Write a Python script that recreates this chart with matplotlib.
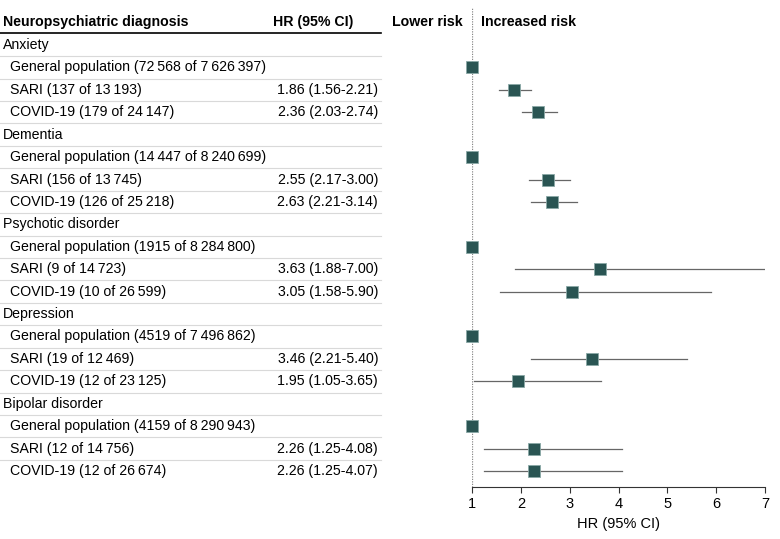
import numpy as np
import matplotlib.pyplot as plt
import matplotlib.transforms as mtransforms

plt.rcParams['font.family'] = ['Liberation Sans', 'DejaVu Sans']

ts = '\u2009'
categories = ['Anxiety', 'Dementia', 'Psychotic disorder', 'Depression', 'Bipolar disorder']
row_labels = [
    ['General population (72' + ts + '568 of 7' + ts + '626' + ts + '397)',
     'SARI (137 of 13' + ts + '193)', 'COVID-19 (179 of 24' + ts + '147)'],
    ['General population (14' + ts + '447 of 8' + ts + '240' + ts + '699)',
     'SARI (156 of 13' + ts + '745)', 'COVID-19 (126 of 25' + ts + '218)'],
    ['General population (1915 of 8' + ts + '284' + ts + '800)',
     'SARI (9 of 14' + ts + '723)', 'COVID-19 (10 of 26' + ts + '599)'],
    ['General population (4519 of 7' + ts + '496' + ts + '862)',
     'SARI (19 of 12' + ts + '469)', 'COVID-19 (12 of 23' + ts + '125)'],
    ['General population (4159 of 8' + ts + '290' + ts + '943)',
     'SARI (12 of 14' + ts + '756)', 'COVID-19 (12 of 26' + ts + '674)'],
]
hr = [[1.0, 1.86, 2.36], [1.0, 2.55, 2.63], [1.0, 3.63, 3.05], [1.0, 3.46, 1.95], [1.0, 2.26, 2.26]]
lo = [[1.0, 1.56, 2.03], [1.0, 2.17, 2.21], [1.0, 1.88, 1.58], [1.0, 2.21, 1.05], [1.0, 1.25, 1.25]]
hi = [[1.0, 2.21, 2.74], [1.0, 3.00, 3.14], [1.0, 7.00, 5.90], [1.0, 5.40, 3.65], [1.0, 4.08, 4.07]]

W, H = 780, 539
fig = plt.figure(figsize=(7.8, 5.39), dpi=100)
row0 = 45
step = 22.42
def to_row(px):
    return (px - row0) / step

ax = fig.add_axes([472 / W, 1 - 487 / H, (765 - 472) / W, (487 - 8) / H])
ax.set_xlim(1, 7)
ax.set_ylim(to_row(487), to_row(8))
for s in ['top', 'right', 'left']:
    ax.spines[s].set_visible(False)
ax.spines['bottom'].set_color('#333333')
ax.set_yticks([])
ax.set_xticks(range(1, 8))
ax.tick_params(axis='x', labelsize=10.5, length=4, color='#333333')
ax.set_xlabel('HR (95% CI)', fontsize=10.5, labelpad=4)
ax.axvline(1, color='#888888', lw=0.9, ls=(0, (1, 1)), zorder=1)

tr = mtransforms.blended_transform_factory(fig.transFigure, ax.transData)
fs = 10.2
mcol = '#2a5553'

fig.text(3 / W, 1 - 22 / H, 'Neuropsychiatric diagnosis', fontsize=fs, fontweight='bold', va='center')
fig.text(273 / W, 1 - 22 / H, 'HR (95% CI)', fontsize=fs, fontweight='bold', va='center')
fig.text(463 / W, 1 - 22 / H, 'Lower risk', fontsize=fs, fontweight='bold', va='center', ha='right')
fig.text(481 / W, 1 - 22 / H, 'Increased risk', fontsize=fs, fontweight='bold', va='center')
ax.plot([0, 381 / W], [to_row(33), to_row(33)], color='black', lw=1.2, transform=tr, clip_on=False)

row = 0
nrows = len(categories) * 4
for c, cat in enumerate(categories):
    ax.text(3 / W, row, cat, fontsize=fs, va='center', transform=tr)
    ax.plot([0, 381 / W], [row + 0.5, row + 0.5], color='#d9d9d9', lw=0.8, transform=tr, clip_on=False)
    row += 1
    for j in range(3):
        ax.text(10 / W, row, row_labels[c][j], fontsize=fs, va='center', transform=tr)
        if j > 0:
            ax.text(378 / W, row, f'{hr[c][j]:.2f} ({lo[c][j]:.2f}-{hi[c][j]:.2f})',
                    fontsize=fs, va='center', ha='right', transform=tr)
            ax.plot([lo[c][j], hi[c][j]], [row, row], color='#666666', lw=0.9, zorder=2)
        if row < nrows - 1:
            ax.plot([0, 381 / W], [row + 0.5, row + 0.5], color='#d9d9d9', lw=0.8, transform=tr, clip_on=False)
        ax.plot(hr[c][j], row, marker='s', ms=8.2, color=mcol, mec='#8aa8a6', mew=0.6, zorder=3, clip_on=False)
        row += 1

fig.savefig('out.png', dpi=100)
